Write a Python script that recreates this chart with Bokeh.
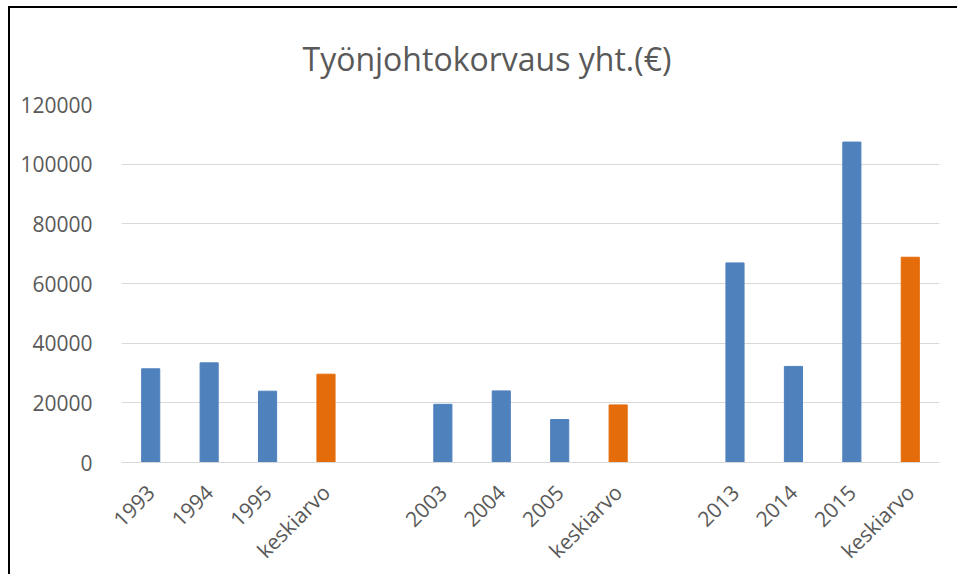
import math
from bokeh.plotting import figure
from bokeh.models import Range1d, ColumnDataSource, FixedTicker, SingleIntervalTicker, BasicTickFormatter
from bokeh.embed import file_html
from bokeh.resources import INLINE

# ---- data ----
labels = ["1993", "1994", "1995", "keskiarvo", "",
          "2003", "2004", "2005", "keskiarvo", "",
          "2013", "2014", "2015", "keskiarvo"]
values = [31400, 33400, 23900, 29600, None,
          19500, 24000, 14400, 19300, None,
          66900, 32200, 107400, 68800]
title_text = "Työnjohtokorvaus yht.(€)"
year_color = "#4F81BD"
mean_color = "#E46C0A"

xs, tops, cols = [], [], []
for i, (lab, v) in enumerate(zip(labels, values)):
    if v is None:
        continue
    xs.append(i)
    tops.append(v)
    cols.append(mean_color if lab == "keskiarvo" else year_color)
src = ColumnDataSource(dict(x=xs, top=tops, color=cols))

p = figure(width=949, height=568,
           x_range=Range1d(-0.5, len(labels) - 0.5),
           y_range=Range1d(0, 120000),
           output_backend="svg", toolbar_location=None,
           min_border_left=111, min_border_right=20,
           min_border_top=96, min_border_bottom=113)
p.styles = {"box-shadow": "-2px -2px 0 0 #000",
            "margin-left": "10px", "margin-top": "8px"}

p.vbar(x="x", top="top", width=0.31, color="color", source=src)

txt = "#595959"
p.title.text = title_text
p.title.align = "left"
p.title.text_font = "Open Sans"
p.title.text_font_size = "32px"
p.title.text_font_style = "normal"
p.title.text_color = txt
p.title.standoff = 50
p.title.offset = 181

p.outline_line_color = None
p.xgrid.visible = False
p.ygrid.grid_line_color = "#d9d9d9"
p.ygrid.grid_line_width = 1

p.yaxis.ticker = SingleIntervalTicker(interval=20000)
p.yaxis.formatter = BasicTickFormatter(use_scientific=False)
p.yaxis.axis_line_color = None
p.yaxis.major_tick_line_color = None
p.yaxis.minor_tick_line_color = None
p.yaxis.major_label_text_font = "Open Sans"
p.yaxis.major_label_text_font_size = "21px"
p.yaxis.major_label_text_color = txt
p.yaxis.major_label_standoff = 23

tick_pos = [i for i, lab in enumerate(labels) if lab]
p.xaxis.ticker = FixedTicker(ticks=tick_pos)
p.xaxis.major_label_overrides = {i: labels[i] for i in tick_pos}
p.xaxis.axis_line_color = "#d9d9d9"
p.xaxis.axis_line_width = 1
p.xaxis.major_tick_line_color = None
p.xaxis.minor_tick_line_color = None
p.xaxis.major_label_orientation = math.pi / 4
p.xaxis.major_label_text_font = "Open Sans"
p.xaxis.major_label_text_font_size = "21px"
p.xaxis.major_label_text_color = txt
p.xaxis.major_label_standoff = 20

open("out.html", "w").write(file_html(p, INLINE))
